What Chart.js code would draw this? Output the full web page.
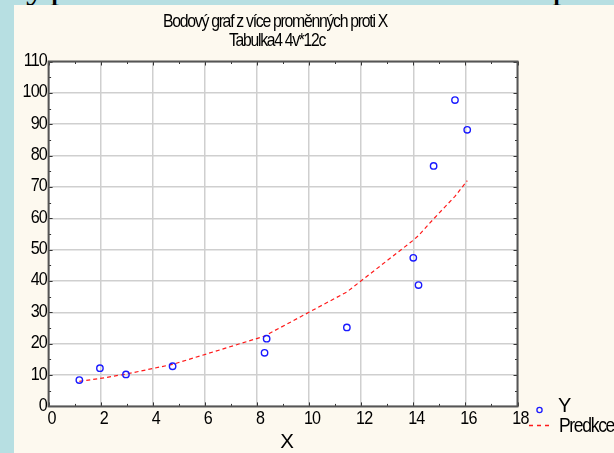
<!DOCTYPE html>
<html>
<head>
<meta charset="utf-8">
<script src="https://cdn.jsdelivr.net/npm/chart.js@4"></script>
<style>
  body { margin: 0; width: 614px; height: 453px; background: #b7dfe2; overflow: hidden; position: relative; }
  #panel { position: absolute; left: 14px; top: 5px; right: 0; bottom: 0; background: #fdf9ef; }
  #strip { position: absolute; left: 0; top: 0; width: 614px; height: 5px; overflow: hidden; }
  #strip span { position: absolute; top: -36px; font: 40px/40px "Liberation Serif", serif; color: #000; }
  #chart { position: absolute; left: 0; top: 0; }
</style>
</head>
<body>
<div id="strip"><span style="left:26px">y</span><span style="left:50px">p</span><span style="left:552px">p</span></div>
<div id="panel"></div>
<canvas id="chart" width="614" height="453"></canvas>
<script>
const titleLines = ["Bodový graf z více proměnných proti X", "Tabulka4 4v*12c"];
const xTitle = "X";
const seriesNames = ["Y", "Predkce"];

// observed points
const xVals = [1.18, 1.97, 2.97, 4.76, 8.29, 8.37, 11.45, 14.0, 14.2, 14.78, 15.6, 16.07];
const yVals = [8.4, 12.2, 10.2, 12.8, 17.1, 21.6, 25.2, 47.4, 38.7, 76.7, 97.7, 88.2];
// predicted curve at the same X
const predVals = [8.0, 8.9, 10.3, 13.4, 22.4, 22.8, 36.5, 53.0, 54.5, 59.8, 67.0, 72.0];

const xTicks = [0, 2, 4, 6, 8, 10, 12, 14, 16, 18];
const yTicks = [0, 10, 20, 30, 40, 50, 60, 70, 80, 90, 100, 110];

const FONT = "'Liberation Sans', Arial, sans-serif";

// squeezed text like the original export
function drawText(ctx, text, x, y, size, align, sx, targetW, spacing) {
  ctx.save();
  ctx.font = size + "px " + FONT;
  ctx.letterSpacing = (spacing || 0) + "px";
  if (targetW) sx = targetW / ctx.measureText(text).width;
  ctx.translate(x, y);
  ctx.scale(sx, 1);
  ctx.textAlign = align;
  ctx.textBaseline = "alphabetic";
  ctx.fillStyle = "#000";
  ctx.fillText(text, 0, 0);
  ctx.restore();
}

const framePlugin = {
  id: "frame",
  beforeDraw(chart) {
    const { ctx, chartArea: a } = chart;
    ctx.save();
    ctx.fillStyle = "#ffffff";
    ctx.fillRect(a.left, a.top, a.right - a.left, a.bottom - a.top);
    ctx.restore();
  },
  afterDraw(chart) {
    const { ctx, chartArea: a } = chart;
    const xs = chart.scales.x, ys = chart.scales.y;
    ctx.save();
    // tick marks pointing inside, on all four sides
    ctx.strokeStyle = "#333";
    ctx.lineWidth = 1;
    for (let i = 0; i < xTicks.length; i++) {
      const px = Math.round(xs.getPixelForValue(xTicks[i])) + 0.5;
      ctx.beginPath();
      ctx.moveTo(px, a.bottom); ctx.lineTo(px, a.bottom - 4);
      ctx.moveTo(px, a.top); ctx.lineTo(px, a.top + 4);
      ctx.stroke();
      if (i < xTicks.length - 1) {
        const mx = Math.round(xs.getPixelForValue((xTicks[i] + xTicks[i + 1]) / 2)) + 0.5;
        ctx.beginPath();
        ctx.moveTo(mx, a.bottom); ctx.lineTo(mx, a.bottom - 2.5);
        ctx.moveTo(mx, a.top); ctx.lineTo(mx, a.top + 2.5);
        ctx.stroke();
      }
    }
    for (let i = 0; i < yTicks.length; i++) {
      const py = Math.round(ys.getPixelForValue(yTicks[i])) + 0.5;
      ctx.beginPath();
      ctx.moveTo(a.left, py); ctx.lineTo(a.left + 4, py);
      ctx.moveTo(a.right, py); ctx.lineTo(a.right - 4, py);
      ctx.stroke();
      if (i < yTicks.length - 1) {
        const my = Math.round(ys.getPixelForValue((yTicks[i] + yTicks[i + 1]) / 2)) + 0.5;
        ctx.beginPath();
        ctx.moveTo(a.left, my); ctx.lineTo(a.left + 2.5, my);
        ctx.moveTo(a.right, my); ctx.lineTo(a.right - 2.5, my);
        ctx.stroke();
      }
    }
    // frame
    ctx.strokeStyle = "#555";
    ctx.lineWidth = 2;
    ctx.strokeRect(a.left, a.top, a.right - a.left, a.bottom - a.top);

    // tick labels
    xTicks.forEach(v => drawText(ctx, String(v), xs.getPixelForValue(v) + 3, 424, 19, "center", 0.85, 0, -1));
    yTicks.forEach(v => drawText(ctx, String(v), 47, ys.getPixelForValue(v) + 4.5, 19, "right", 0.85, 0, -1));

    // titles
    drawText(ctx, titleLines[0], 275, 27, 18.5, "center", 1, 224, -1.5);
    drawText(ctx, titleLines[1], 277, 46, 18.5, "center", 1, 96, -1.5);
    drawText(ctx, xTitle, 287, 448, 20.5, "center", 1);

    // legend
    const d0 = chart.data.datasets[0], d1 = chart.data.datasets[1];
    ctx.strokeStyle = d0.borderColor;
    ctx.lineWidth = 1.3;
    ctx.beginPath();
    ctx.arc(539.5, 410, 2.6, 0, Math.PI * 2);
    ctx.stroke();
    drawText(ctx, seriesNames[0], 558, 412, 20, "left", 1);
    ctx.strokeStyle = d1.borderColor;
    ctx.setLineDash([4, 4]);
    ctx.beginPath();
    ctx.moveTo(529, 425.5); ctx.lineTo(553, 425.5);
    ctx.stroke();
    ctx.setLineDash([]);
    drawText(ctx, seriesNames[1], 559, 432, 19.5, "left", 1, 55, -1.5);
    ctx.restore();
  }
};

new Chart(document.getElementById("chart"), {
  type: "scatter",
  data: {
    datasets: [
      {
        label: seriesNames[0],
        data: xVals.map((x, i) => ({ x: x, y: yVals[i] })),
        borderColor: "#1a1aff",
        backgroundColor: "rgba(0,0,0,0)",
        borderWidth: 1.4,
        pointRadius: 3.2,
        pointStyle: "circle",
        order: 1,
      },
      {
        label: seriesNames[1],
        data: xVals.map((x, i) => ({ x: x, y: predVals[i] })),
        showLine: true,
        borderColor: "#ff1a1a",
        borderWidth: 1.2,
        borderDash: [4, 3],
        pointRadius: 0,
        tension: 0,
        fill: false,
        order: 2,
      },
    ],
  },
  options: {
    responsive: false,
    animation: false,
    devicePixelRatio: 1,
    layout: { padding: { left: 48.6, top: 61.5, right: 96.5, bottom: 46.6 } },
    plugins: { legend: { display: false }, title: { display: false }, tooltip: { enabled: false } },
    scales: {
      x: {
        type: "linear", min: 0, max: 18,
        ticks: { display: false, stepSize: 2 },
        grid: { color: "#cfcfcf", lineWidth: 1.5, drawTicks: false },
        border: { display: false },
      },
      y: {
        type: "linear", min: 0, max: 110,
        ticks: { display: false, stepSize: 10 },
        grid: { color: "#cfcfcf", lineWidth: 1.5, drawTicks: false },
        border: { display: false },
      },
    },
  },
  plugins: [framePlugin],
});
</script>
</body>
</html>
